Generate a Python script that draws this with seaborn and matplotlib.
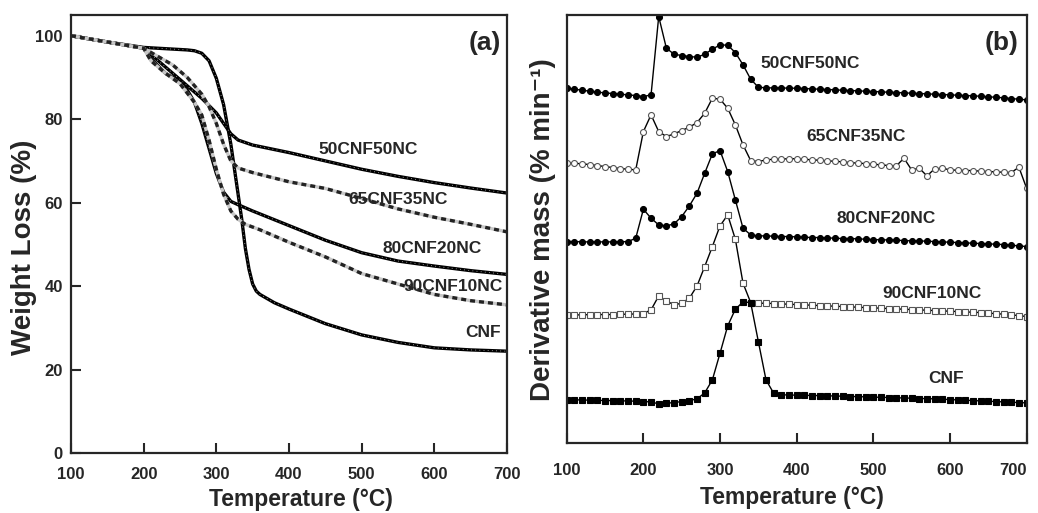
import numpy as np
import pandas as pd
import seaborn as sns
import matplotlib.pyplot as plt

# ---- panel (a): TGA weight loss curves ----
cnf_t = [100, 150, 200, 220, 240, 260, 270, 280, 290, 300, 310, 320, 330, 335, 340, 345,
         350, 355, 360, 380, 400, 450, 500, 550, 600, 650, 700]
cnf_w = [100, 98.5, 97.2, 97.0, 96.8, 96.6, 96.4, 95.8, 94.0, 89.8, 83.5, 74.0, 62.0, 56.0,
         49.0, 44.0, 40.5, 38.8, 38.0, 36.0, 34.5, 31.0, 28.3, 26.5, 25.2, 24.7, 24.4]

c50_t = [100, 150, 200, 220, 240, 260, 280, 300, 310, 320, 330, 350, 400, 450, 500, 550, 600, 650, 700]
c50_w = [100, 98.5, 97.0, 94.0, 91.0, 88.0, 85.0, 81.5, 79.0, 76.5, 75.0, 73.8, 72.0, 70.0,
         68.0, 66.3, 64.8, 63.5, 62.3]

c65_t = [100, 150, 200, 220, 240, 260, 280, 290, 300, 310, 320, 330, 350, 400, 450, 500, 550, 600, 650, 700]
c65_w = [100, 98.5, 97.0, 95.0, 93.0, 90.0, 86.0, 83.0, 79.0, 74.0, 70.0, 68.3, 67.2, 65.0,
         63.4, 61.0, 58.5, 56.5, 54.8, 53.0]

c80_t = [100, 150, 200, 210, 230, 250, 260, 270, 280, 290, 300, 310, 320, 330, 350, 400, 450, 500, 550, 600, 650, 700]
c80_w = [100, 98.5, 97.0, 94.5, 91.0, 89.0, 87.0, 84.0, 79.0, 73.0, 67.0, 62.5, 60.3, 59.5,
         58.0, 54.5, 51.0, 48.0, 46.0, 44.8, 43.7, 42.8]

c90_t = [100, 150, 200, 210, 230, 250, 270, 280, 290, 300, 310, 320, 330, 340, 360, 400, 450, 500, 550, 600, 650, 700]
c90_w = [100, 98.5, 97.0, 94.0, 91.0, 88.5, 84.0, 81.0, 75.0, 68.0, 62.0, 58.0, 56.0, 54.8,
         53.5, 50.5, 47.0, 43.0, 40.5, 38.0, 36.5, 35.5]

# ---- panel (b): DTG curves, 100..700 C every 10 C (arbitrary offset units) ----
dtg_t = list(range(100, 701, 10))

d50 = [106.5, 106.2, 105.9, 105.6, 105.3, 105.1, 104.9, 104.7, 104.5, 104.3,
       104.0, 104.5, 128.0, 118.5, 116.7, 116.3, 116.0, 115.8, 116.7, 118.2,
       119.5, 119.4, 117.2, 113.5, 109.2,
       106.8, 106.6, 106.6, 106.6, 106.5, 106.5, 106.4, 106.3, 106.2, 106.1,
       106.0, 105.9, 105.8, 105.7, 105.6, 105.5, 105.4, 105.3, 105.2, 105.1,
       105.0, 104.9, 104.8, 104.7, 104.6, 104.5, 104.4, 104.3, 104.2, 104.1,
       103.9, 103.8, 103.6, 103.4, 103.2, 103.0]

d65 = [84.2, 84.0, 83.8, 83.6, 83.3, 83.0, 82.7, 82.4, 82.2, 82.0,
       93.5, 98.5, 93.5, 92.0, 92.8, 93.8, 94.8, 96.2, 99.0, 103.5,
       103.2, 100.5, 95.5, 89.5, 84.8,
       84.5, 85.0, 85.2, 85.2, 85.4, 85.3, 85.2, 85.0, 84.9, 84.7,
       84.6, 84.4, 84.2, 84.0, 83.9, 83.7, 83.5, 83.3, 83.2, 85.5,
       82.0, 82.5, 80.2, 82.3, 82.5, 82.0, 81.9, 81.8, 81.8, 81.6,
       81.5, 81.4, 81.3, 81.2, 82.8, 76.5]

d80 = [60.5, 60.5, 60.4, 60.4, 60.4, 60.4, 60.4, 60.4, 60.5, 61.5,
       70.2, 67.5, 65.5, 65.2, 65.8, 68.0, 71.2, 75.0, 81.0, 86.8,
       87.8, 81.5, 73.0, 64.5, 62.5,
       62.2, 62.2, 62.1, 62.0, 62.0, 61.9, 61.8, 61.7, 61.7, 61.6,
       61.5, 61.4, 61.4, 61.3, 61.2, 61.1, 61.0, 61.0, 60.9, 60.8,
       60.7, 60.7, 60.6, 60.5, 60.4, 60.3, 60.2, 60.1, 60.0, 59.9,
       59.8, 59.7, 59.6, 59.4, 59.2, 59.0]

d90 = [38.5, 38.5, 38.5, 38.6, 38.6, 38.6, 38.6, 38.7, 38.7, 38.8,
       38.9, 40.0, 44.2, 42.7, 41.5, 42.0, 43.5, 47.2, 53.0, 59.0,
       65.2, 68.5, 61.2, 48.0, 42.2,
       42.0, 42.0, 41.9, 41.8, 41.7, 41.6, 41.5, 41.4, 41.3, 41.2,
       41.1, 41.0, 40.9, 40.8, 40.7, 40.6, 40.5, 40.4, 40.3, 40.2,
       40.1, 40.0, 39.9, 39.8, 39.7, 39.6, 39.5, 39.4, 39.3, 39.2,
       39.0, 38.9, 38.7, 38.5, 38.3, 38.0]

dcnf = [13.0, 13.0, 13.0, 12.9, 12.9, 12.8, 12.8, 12.7, 12.7, 12.6,
        12.5, 12.4, 11.8, 12.0, 12.2, 12.5, 12.8, 13.3, 15.1, 19.0,
        27.0, 35.2, 40.2, 42.4, 42.2, 30.5, 19.0, 15.0,
        14.5, 14.5, 14.4, 14.4, 14.3, 14.3, 14.2, 14.2, 14.1, 14.0,
        14.0, 13.9, 13.8, 13.8, 13.7, 13.6, 13.6, 13.5, 13.4, 13.4,
        13.3, 13.2, 13.1, 13.0, 12.9, 12.8, 12.7, 12.6, 12.5, 12.4,
        12.3, 12.2, 12.1]

sns.set_style("ticks")
plt.rcParams['font.family'] = ['Liberation Sans', 'DejaVu Sans']
plt.rcParams['font.weight'] = 'bold'
plt.rcParams['axes.linewidth'] = 1.6

fig = plt.figure(figsize=(10.38, 5.13), dpi=100)
ax1 = fig.add_axes([0.0684, 0.117, 0.420, 0.854])
ax2 = fig.add_axes([0.546, 0.136, 0.443, 0.835])

# === panel (a) ===
solid = [(cnf_t, cnf_w), (c50_t, c50_w), (c80_t, c80_w)]
dashed = [(c65_t, c65_w), (c90_t, c90_w)]
for t, w in solid:
    sns.lineplot(x=t, y=w, ax=ax1, color="black", lw=2.4)
    sns.lineplot(x=t, y=w, ax=ax1, color="#bbbbbb", lw=0.6, linestyle=(0, (1, 4)))
for t, w in dashed:
    sns.lineplot(x=t, y=w, ax=ax1, color="#c8c8c8", lw=2.4)
    sns.lineplot(x=t, y=w, ax=ax1, color="#222222", lw=2.4, linestyle=(0, (1.5, 1.2)))

labels_a = [("50CNF50NC", 509, 72.7), ("65CNF35NC", 550, 60.7), ("80CNF20NC", 597, 49.0),
            ("90CNF10NC", 626, 39.8), ("CNF", 667, 28.8)]
for txt, x, y in labels_a:
    ax1.text(x, y, txt, ha="center", va="center", fontsize=12.5, fontweight="bold")
ax1.text(670, 98.3, "(a)", ha="center", va="center", fontsize=19, fontweight="bold")

ax1.set_xlim(100, 700)
ax1.set_ylim(0, 105)
ax1.set_xticks(range(100, 701, 100))
ax1.set_yticks(range(0, 101, 20))
ax1.tick_params(direction="in", length=7, width=1.5, labelsize=12, pad=10,
                top=False, right=False)
ax1.tick_params(axis="y", pad=6)
ax1.set_xlabel("Temperature (°C)", fontsize=16.5, fontweight="bold")
ax1.xaxis.set_label_coords(0.527, -0.107)
ax1.xaxis.label.set_verticalalignment("center")
ax1.set_ylabel("Weight Loss (%)", fontsize=20, fontweight="bold")
ax1.yaxis.set_label_coords(-0.108, 0.47)
ax1.yaxis.label.set_verticalalignment("center")

# === panel (b) ===
dtg = [(d50, "o", "black"), (d65, "o", "white"), (d80, "o", "black"),
       (d90, "s", "white"), (dcnf, "s", "black")]
for vals, mk, fc in dtg:
    sns.lineplot(x=dtg_t, y=vals, ax=ax2, color="black", lw=1.0, marker=mk,
                 markersize=4.3, markerfacecolor=fc,
                 markeredgecolor="black" if fc == "black" else "#555555",
                 markeredgewidth=0.8)

labels_b = [("50CNF50NC", 417, 114), ("65CNF35NC", 478, 92), ("80CNF20NC", 517, 67.5),
            ("90CNF10NC", 576, 45), ("CNF", 595, 19.5)]
for txt, x, y in labels_b:
    ax2.text(x, y, txt, ha="center", va="center", fontsize=12.5, fontweight="bold")
ax2.text(668, 120, "(b)", ha="center", va="center", fontsize=19, fontweight="bold")

ax2.set_xlim(100, 700)
ax2.set_ylim(0, 128.5)
ax2.set_xticks(range(100, 701, 100))
ax2.set_yticks([])
ax2.tick_params(direction="in", length=7, width=1.5, labelsize=12, pad=14,
                top=False, right=False)
# last tick label would run past the figure edge
ax2.get_xticklabels()[-1].set_horizontalalignment("right")
ax2.set_xlabel("Temperature (°C)", fontsize=16.5, fontweight="bold")
ax2.xaxis.set_label_coords(0.489, -0.126)
ax2.xaxis.label.set_verticalalignment("center")
ax2.set_ylabel("Derivative mass (% min⁻¹)", fontsize=20, fontweight="bold")
ax2.yaxis.set_label_coords(-0.052, 0.498)
ax2.yaxis.label.set_verticalalignment("center")

fig.savefig("out.png", dpi=100)
